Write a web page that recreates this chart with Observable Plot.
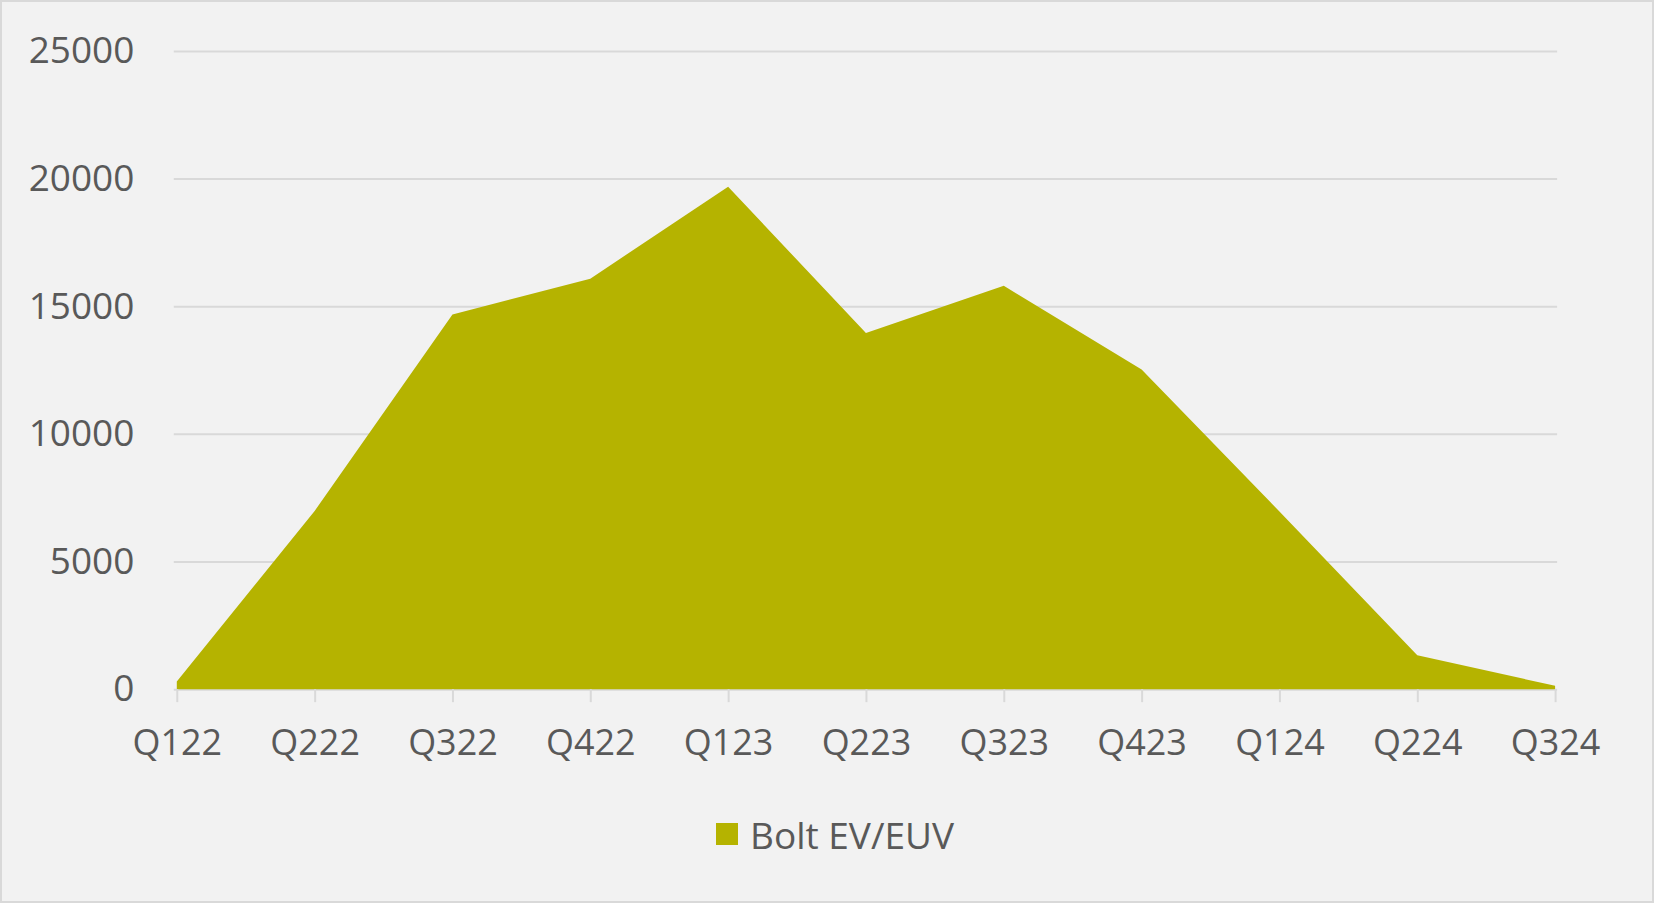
<!DOCTYPE html>
<html>
<head>
<meta charset="utf-8">
<script src="https://cdn.jsdelivr.net/npm/d3@7"></script>
<script src="https://cdn.jsdelivr.net/npm/@observablehq/plot@0.6"></script>
<style>
  html, body { margin: 0; padding: 0; background: #f2f2f2; }
  #frame {
    position: relative; width: 1654px; height: 903px; box-sizing: border-box;
    background: #f2f2f2; border: 2px solid #d9d9d9; overflow: hidden;
    font-family: "Open Sans", sans-serif;
  }
  #chart { position: absolute; left: -2px; top: -2px; }
  #legend {
    position: absolute; left: 714px; top: 807px; height: 50px;
    display: flex; align-items: center; gap: 12px;
    color: #595959; font-size: 37px;
  }
  #legend .sw { width: 22px; height: 22px; background: #b5b300; }
</style>
</head>
<body>
<div id="frame">
  <div id="chart"></div>
  <div id="legend"><span class="sw"></span><span>Bolt EV/EUV</span></div>
</div>
<script>
const quarters = ["Q122","Q222","Q322","Q422","Q123","Q223","Q323","Q423","Q124","Q224","Q324"];
const sales = [300, 6980, 14680, 16080, 19680, 13950, 15800, 12520, 6960, 1330, 130];
const yTicks = [0, 5000, 10000, 15000, 20000, 25000];
const seriesName = "Bolt EV/EUV";

const data = quarters.map((q, i) => ({q, v: sales[i], s: seriesName}));

const chart = Plot.plot({
  width: 1654,
  height: 790,
  marginLeft: 174,
  marginRight: 95,
  marginTop: 51,
  marginBottom: 100,
  style: {background: "transparent", fontFamily: "'Open Sans', sans-serif", fontSize: "36px", color: "#595959"},
  x: {type: "point", domain: quarters, padding: 0, label: null},
  y: {domain: [0, 25000], label: null},
  marks: [
    Plot.ruleY(yTicks, {stroke: "#d9d9d9", strokeWidth: 2}),
    Plot.areaY(data, {x: "q", y: "v", fill: "#b5b300"}),
    Plot.axisY({ticks: yTicks, tickSize: 0, tickPadding: 40, tickFormat: d => String(d), fill: "#595959", fontSize: 37, label: null}),
    Plot.axisX({tickSize: 13, tickPadding: 27, stroke: "#d9d9d9", strokeWidth: 2, fill: "#595959", fontSize: 36, label: null})
  ]
});
document.getElementById("chart").appendChild(chart);
</script>
</body>
</html>
